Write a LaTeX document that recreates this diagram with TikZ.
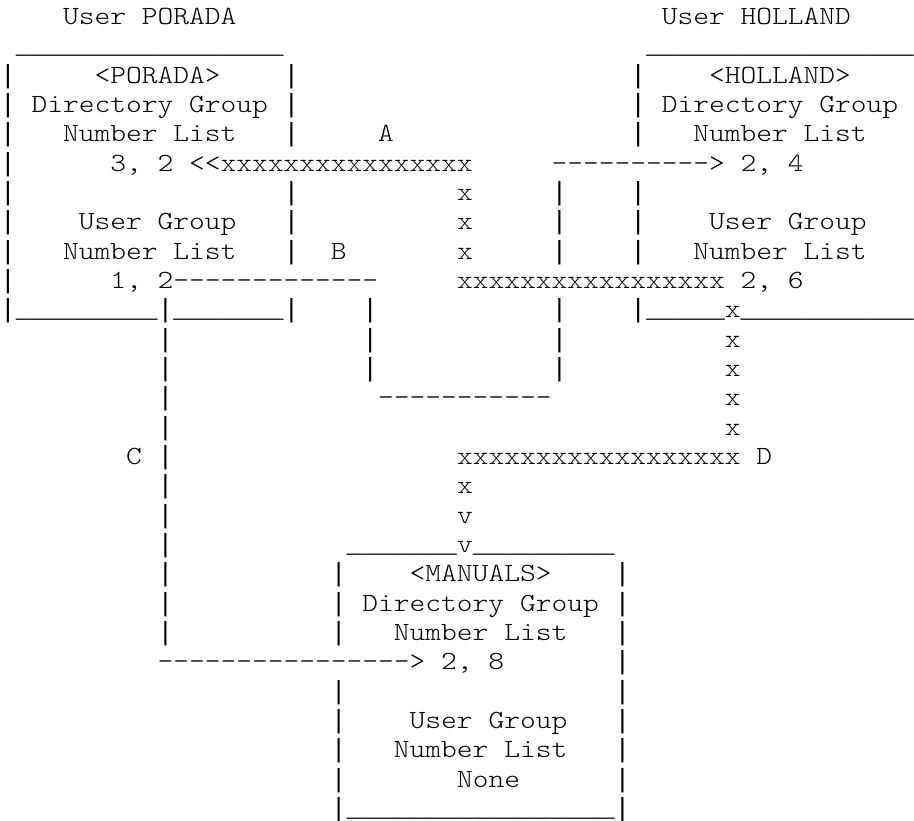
\documentclass[tikz,border=0pt]{standalone}
\usepackage{fontspec}
\setmonofont{Latin Modern Mono Light}[FakeStretch=1.14286]
\newfontfamily\linemono{Liberation Mono}
\newcommand\VB{{\linemono|}}
\newcommand\US[1]{{\linemono\foreach\k in {1,...,#1}{\_}}}
\newcommand\gridcw{15.7586}
\newcommand\gridrh{29.33}
\newcommand\gridbo{24.5}
\tikzset{txt/.style={anchor=base west, inner sep=0pt, outer sep=0pt, text=black,
  font=\ttfamily\fontsize{26.26}{29.33}\selectfont}}
\newcommand\puttext[4]{\node[txt] (#1) at ({#3*\gridcw pt},{-(\gridbo+#2*\gridrh)*1pt}) {#4};}
\begin{document}
\begin{tikzpicture}
\fill[white] (0,0) rectangle (914pt,-821pt);
\useasboundingbox (0,0) rectangle (914pt,-821pt);
% row 0
\puttext{r0a}{0}{4}{User PORADA}
\puttext{r0b}{0}{42}{User HOLLAND}
% row 1
\puttext{r1a}{1}{1}{\US{17}}
\puttext{r1b}{1}{41}{\US{17}}
% row 2
\puttext{r2a}{2}{0}{\VB}
\puttext{r2b}{2}{6}{<PORADA>}
\puttext{r2c}{2}{18}{\VB}
\puttext{r2d}{2}{40}{\VB}
\puttext{r2e}{2}{45}{<HOLLAND>}
% row 3
\puttext{r3a}{3}{0}{\VB}
\puttext{r3b}{3}{2}{Directory Group}
\puttext{r3c}{3}{18}{\VB}
\puttext{r3d}{3}{40}{\VB}
\puttext{r3e}{3}{42}{Directory Group}
% row 4
\puttext{r4a}{4}{0}{\VB}
\puttext{r4b}{4}{4}{Number List}
\puttext{r4c}{4}{18}{\VB}
\puttext{r4d}{4}{24}{A}
\puttext{r4e}{4}{40}{\VB}
\puttext{r4f}{4}{44}{Number List}
% row 5
\puttext{r5a}{5}{0}{\VB}
\puttext{r5b}{5}{7}{3, 2 <<xxxxxxxxxxxxxxxx}
\puttext{r5c}{5}{35}{----------> 2, 4}
% row 6
\puttext{r6a}{6}{0}{\VB}
\puttext{r6b}{6}{18}{\VB}
\puttext{r6c}{6}{29}{x}
\puttext{r6d}{6}{35}{\VB}
\puttext{r6e}{6}{40}{\VB}
% row 7
\puttext{r7a}{7}{0}{\VB}
\puttext{r7b}{7}{5}{User Group}
\puttext{r7c}{7}{18}{\VB}
\puttext{r7d}{7}{29}{x}
\puttext{r7e}{7}{35}{\VB}
\puttext{r7f}{7}{40}{\VB}
\puttext{r7g}{7}{45}{User Group}
% row 8
\puttext{r8a}{8}{0}{\VB}
\puttext{r8b}{8}{4}{Number List}
\puttext{r8c}{8}{18}{\VB}
\puttext{r8d}{8}{21}{B}
\puttext{r8e}{8}{29}{x}
\puttext{r8f}{8}{35}{\VB}
\puttext{r8g}{8}{40}{\VB}
\puttext{r8h}{8}{44}{Number List}
% row 9
\puttext{r9a}{9}{0}{\VB}
\puttext{r9b}{9}{7}{1, 2-------------}
\puttext{r9c}{9}{29}{xxxxxxxxxxxxxxxxx 2, 6}
% row 10
\puttext{r10a}{10}{0}{\VB\US{9}\VB\US{7}\VB}
\puttext{r10b}{10}{23}{\VB}
\puttext{r10c}{10}{35}{\VB}
\puttext{r10d}{10}{40}{\VB\US{5}x\US{11}}
% row 11
\puttext{r11a}{11}{10}{\VB}
\puttext{r11b}{11}{23}{\VB}
\puttext{r11c}{11}{35}{\VB}
\puttext{r11d}{11}{46}{x}
% row 12
\puttext{r12a}{12}{10}{\VB}
\puttext{r12b}{12}{23}{\VB}
\puttext{r12c}{12}{35}{\VB}
\puttext{r12d}{12}{46}{x}
% row 13
\puttext{r13a}{13}{10}{\VB}
\puttext{r13b}{13}{24}{-----------}
\puttext{r13c}{13}{46}{x}
% row 14
\puttext{r14a}{14}{10}{\VB}
\puttext{r14b}{14}{46}{x}
% row 15
\puttext{r15a}{15}{8}{C}
\puttext{r15b}{15}{10}{\VB}
\puttext{r15c}{15}{29}{xxxxxxxxxxxxxxxxxx D}
% row 16
\puttext{r16a}{16}{10}{\VB}
\puttext{r16b}{16}{29}{x}
% row 17
\puttext{r17a}{17}{10}{\VB}
\puttext{r17b}{17}{29}{v}
% row 18
\puttext{r18a}{18}{10}{\VB}
\puttext{r18b}{18}{22}{\US{7}v\US{9}}
% row 19
\puttext{r19a}{19}{10}{\VB}
\puttext{r19b}{19}{21}{\VB}
\puttext{r19c}{19}{26}{<MANUALS>}
\puttext{r19d}{19}{39}{\VB}
% row 20
\puttext{r20a}{20}{10}{\VB}
\puttext{r20b}{20}{21}{\VB}
\puttext{r20c}{20}{23}{Directory Group}
\puttext{r20d}{20}{39}{\VB}
% row 21
\puttext{r21a}{21}{10}{\VB}
\puttext{r21b}{21}{21}{\VB}
\puttext{r21c}{21}{25}{Number List}
\puttext{r21d}{21}{39}{\VB}
% row 22
\puttext{r22a}{22}{10}{----------------> 2, 8}
\puttext{r22b}{22}{39}{\VB}
% row 23
\puttext{r23a}{23}{21}{\VB}
\puttext{r23b}{23}{39}{\VB}
% row 24
\puttext{r24a}{24}{21}{\VB}
\puttext{r24b}{24}{26}{User Group}
\puttext{r24c}{24}{39}{\VB}
% row 25
\puttext{r25a}{25}{21}{\VB}
\puttext{r25b}{25}{25}{Number List}
\puttext{r25c}{25}{39}{\VB}
% row 26
\puttext{r26a}{26}{21}{\VB}
\puttext{r26b}{26}{29}{None}
\puttext{r26c}{26}{39}{\VB}
% row 27
\puttext{r27a}{27}{21}{\VB\US{17}\VB}
\end{tikzpicture}
\end{document}
